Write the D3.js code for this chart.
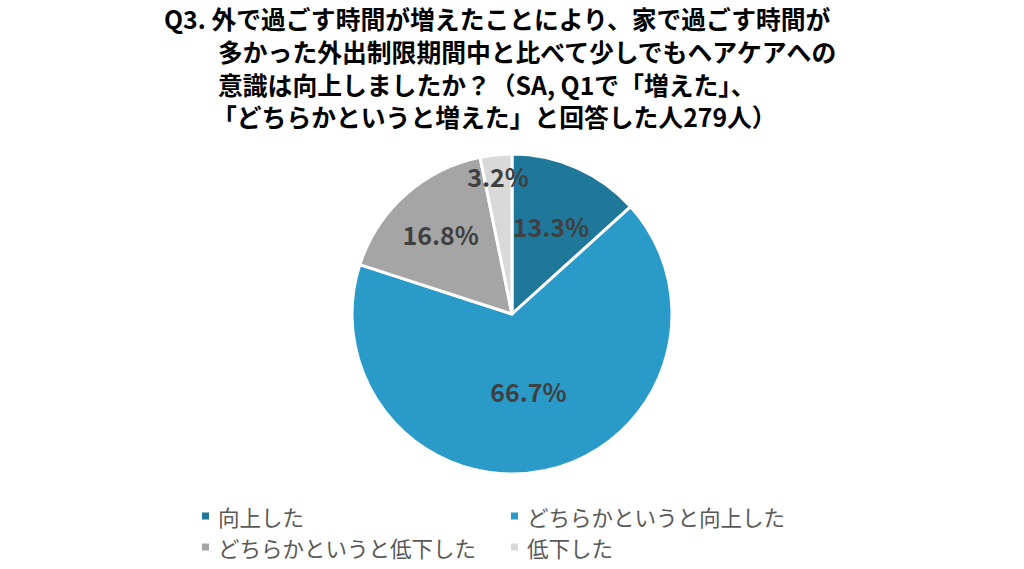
<!DOCTYPE html>
<html><head><meta charset="utf-8">
<script src="https://cdn.jsdelivr.net/npm/d3@7"></script>
<style>body{margin:0;background:#fff;}svg{display:block;}</style>
</head><body>
<svg id="c" width="1024" height="569"></svg>
<script>
const categories = ["向上した", "どちらかというと向上した", "どちらかというと低下した", "低下した"];
const values = [13.3, 66.7, 16.8, 3.2];
const colors = ["#1F7799", "#2A9BC8", "#A5A5A5", "#D9D9D9"];
const titleLines = [
  "Q3. 外で過ごす時間が増えたことにより、家で過ごす時間が",
  "多かった外出制限期間中と比べて少しでもヘアケアへの",
  "意識は向上しましたか？（SA, Q1で「増えた」、",
  "「どちらかというと増えた」と回答した人279人）"
];

const svg = d3.select("#c");
const font = "'Noto Sans CJK JP','Noto Sans',sans-serif";
const cx = 512, cy = 314, R = 160;
const labelFactor = [0.6, 0.49, 0.67, 0.87];

// title (one text element, one tspan per line)
const tX = [164, 218, 218, 212];
const tY = [29, 62, 95, 127];
const title = svg.append("text")
  .attr("font-family", font).attr("font-weight", "bold").attr("font-size", 24.8)
  .attr("fill", "#000");
titleLines.forEach((t, i) => {
  title.append("tspan").attr("x", tX[i]).attr("y", tY[i]).text(t);
});

const pie = d3.pie().sort(null).value(d => d);
const arcs = pie(values);
const arc = d3.arc().innerRadius(0).outerRadius(R);
const g = svg.append("g").attr("transform", `translate(${cx},${cy})`);
g.selectAll("path").data(arcs).join("path")
  .attr("d", arc).attr("fill", (d, i) => colors[i])
  .attr("stroke", "#fff").attr("stroke-width", 3).attr("stroke-linejoin", "round");

g.selectAll("text.lbl").data(arcs).join("text").attr("class", "lbl")
  .attr("transform", (d, i) => {
    const a = (d.startAngle + d.endAngle) / 2;
    const r = R * labelFactor[i];
    return `translate(${Math.sin(a) * r},${-Math.cos(a) * r})`;
  })
  .attr("text-anchor", "middle").attr("dominant-baseline", "central")
  .attr("font-family", font).attr("font-weight", "bold").attr("font-size", 25)
  .attr("fill", "#404040")
  .text(d => d.value.toFixed(1) + "%");

// legend
const lx = [202, 511], ly = [516, 547];
categories.forEach((c, i) => {
  const x = lx[i % 2], y = ly[Math.floor(i / 2)];
  svg.append("rect").attr("x", x).attr("y", y - 3.5).attr("width", 7).attr("height", 7).attr("fill", colors[i]);
  svg.append("text").attr("x", x + 16).attr("y", y).attr("dominant-baseline", "central")
    .attr("font-family", font).attr("font-size", 21.5).attr("fill", "#595959").text(c);
});
</script>
</body></html>
